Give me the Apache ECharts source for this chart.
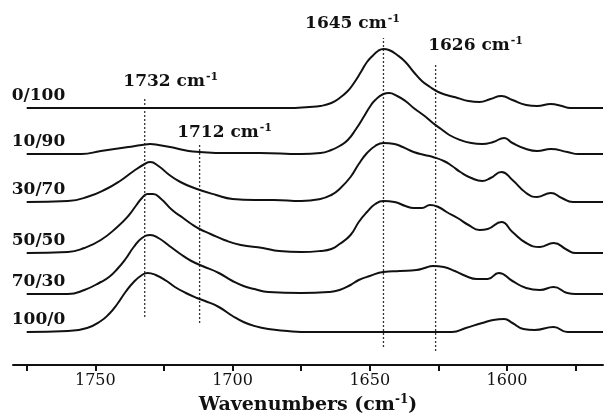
<!DOCTYPE html>
<html>
<head>
<meta charset="utf-8">
<script src="https://cdn.jsdelivr.net/npm/echarts@6/dist/echarts.min.js"></script>
<style>
  html, body { margin: 0; padding: 0; background: #ffffff; }
  #chart { width: 605px; height: 413px; }
</style>
</head>
<body>
<div id="chart"></div>
<script>
// Stacked FTIR spectra of the blends, carbonyl / amide I region.
// Each spectrum is [wavenumber (cm-1), absorbance above its own baseline].
const sampleNames = ['0/100', '10/90', '30/70', '50/50', '70/30', '100/0'];
const sampleOffsets = [257, 211, 163, 112, 71, 33];

const spectrum_0_100 = [
  [1775,0],[1740,0],[1700,0],[1680,0],[1672,1],[1668,2],[1664,5],[1661,10],[1658,17],[1656,24],
  [1653,37],[1651,46],[1649,52],[1647,57],[1645,59],[1643,58],[1640,53],[1637,46],[1634,36],
  [1631,27],[1628,21],[1625,16],[1622,13],[1618,10],[1614,7],[1610,6],[1606,9],[1602,12],
  [1598,8],[1593,3],[1589,2],[1584,4],[1580,2],[1577,0],[1565,0]
];
const spectrum_10_90 = [
  [1775,0],[1755,0],[1748,3],[1743,5],[1738,7],[1733,9],[1730,10],[1727,9],[1721,6],[1716,3],
  [1712,2],[1703,1],[1690,1],[1675,0],[1668,1],[1664,4],[1661,8],[1658,14],[1655,25],[1652,38],
  [1650,47],[1648,54],[1645,60],[1643,61],[1640,58],[1637,53],[1634,46],[1630,38],[1627,31],
  [1624,25],[1621,19],[1617,14],[1613,11],[1609,10],[1605,12],[1601,16],[1598,11],[1593,5],
  [1589,3],[1584,5],[1578,2],[1574,0],[1565,0]
];
const spectrum_30_70 = [
  [1775,0],[1760,1],[1752,6],[1746,13],[1741,21],[1736,31],[1732,38],[1730,40],[1727,36],
  [1723,27],[1719,20],[1714,14],[1706,7],[1700,3],[1692,2],[1685,2],[1675,1],[1668,3],
  [1664,7],[1661,13],[1657,25],[1654,38],[1651,49],[1648,56],[1645,59],[1641,58],[1638,55],
  [1634,50],[1630,47],[1627,45],[1623,41],[1620,36],[1617,30],[1613,24],[1609,21],[1606,24],
  [1602,30],[1598,22],[1593,9],[1589,5],[1584,9],[1580,4],[1576,0],[1565,0]
];
const spectrum_50_50 = [
  [1775,0],[1760,1],[1754,5],[1748,13],[1742,26],[1738,37],[1735,48],[1733,55],[1731,59],
  [1729,59],[1726,54],[1722,43],[1718,35],[1715,29],[1712,24],[1708,19],[1703,13],[1697,8],
  [1689,5],[1683,2],[1675,1],[1668,2],[1664,4],[1661,9],[1657,18],[1654,31],[1651,41],
  [1648,49],[1645,52],[1641,51],[1637,47],[1634,45],[1631,45],[1628,48],[1625,46],[1622,41],
  [1618,35],[1614,28],[1610,23],[1607,24],[1602,31],[1598,21],[1593,10],[1588,6],[1583,10],
  [1578,3],[1575,0],[1565,0]
];
const spectrum_70_30 = [
  [1775,0],[1760,0],[1754,4],[1748,12],[1745,17],[1742,25],[1739,35],[1736,47],[1733,56],
  [1730,59],[1727,56],[1723,48],[1719,40],[1715,33],[1711,28],[1705,21],[1700,13],[1696,8],
  [1692,5],[1687,2],[1675,1],[1665,2],[1661,4],[1657,9],[1654,14],[1650,18],[1645,22],
  [1639,23],[1633,24],[1630,26],[1627,28],[1623,27],[1619,23],[1615,18],[1611,15],[1607,15],
  [1603,21],[1598,13],[1593,6],[1588,4],[1583,7],[1578,1],[1575,0],[1565,0]
];
const spectrum_100_0 = [
  [1775,0],[1760,1],[1753,4],[1748,11],[1745,18],[1742,28],[1739,40],[1736,50],[1733,57],
  [1731,59],[1728,57],[1724,51],[1721,45],[1717,39],[1713,34],[1710,31],[1705,25],[1700,16],
  [1696,10],[1692,6],[1687,3],[1680,1],[1675,0],[1620,0],[1615,4],[1609,9],[1605,12],[1601,13],
  [1598,9],[1594,3],[1590,2],[1583,5],[1578,0],[1565,0]
];
const spectra = [spectrum_0_100, spectrum_10_90, spectrum_30_70, spectrum_50_50, spectrum_70_30, spectrum_100_0];

// Assigned bands and the vertical span of their marker lines (same units as the stack)
const peakPositions = [1732, 1712, 1645, 1626];
const peakLineTop = [268, 222, 327, 302];
const peakLineBottom = [48, 42, 18, 14];

// Axis
const xMin = 1565, xMax = 1780;
const tickValues = [1575, 1600, 1625, 1650, 1675, 1700, 1725, 1750, 1775];
const tickLabelValues = [1600, 1650, 1700, 1750];

// Text placement (pixels) for the band labels, relative to the top of each marker line
const peakLabelShift = [[26, -15], [25, -10], [-31, -14], [40, -17]];

const FONT = 'DejaVu Serif';
const INK = '#111111';

const supRich = {
  m: { fontFamily: FONT, fontWeight: 'bold', fontSize: 17, color: INK, lineHeight: 20 },
  s: { fontFamily: FONT, fontWeight: 'bold', fontSize: 11, color: INK, verticalAlign: 'top', lineHeight: 20, padding: [0, 0, 0, 1] }
};

const series = [];

spectra.forEach(function (spec, i) {
  const off = sampleOffsets[i];
  series.push({
    name: sampleNames[i],
    type: 'line',
    data: spec.map(function (p) { return [p[0], p[1] + off]; }),
    smooth: 0.5,
    symbol: 'none',
    lineStyle: { color: INK, width: 2 },
    z: 3,
    markPoint: {
      symbol: 'circle',
      symbolSize: 0,
      silent: true,
      data: [{ coord: [spec[0][0], off] }],
      label: {
        show: true,
        formatter: sampleNames[i],
        align: 'left',
        offset: [-15, -12],
        fontFamily: FONT,
        fontWeight: 'bold',
        fontSize: 17,
        color: INK
      }
    }
  });
});

peakPositions.forEach(function (wn, k) {
  series.push({
    name: 'band ' + wn,
    type: 'line',
    data: [[wn, peakLineBottom[k]], [wn, peakLineTop[k]]],
    symbol: 'none',
    lineStyle: { color: '#333333', width: 1.3, type: [2, 2] },
    z: 2,
    markPoint: {
      symbol: 'circle',
      symbolSize: 0,
      silent: true,
      data: [{ coord: [wn, peakLineTop[k]] }],
      label: {
        show: true,
        formatter: '{m|' + wn + ' cm}{s|-1}',
        offset: peakLabelShift[k],
        rich: supRich
      }
    }
  });
});

const chart = echarts.init(document.getElementById('chart'), null, { renderer: 'canvas' });
chart.setOption({
  animation: false,
  backgroundColor: '#ffffff',
  grid: { left: 13, right: 2, top: 0, bottom: 48, containLabel: false, outerBoundsMode: 'none' },
  xAxis: {
    type: 'value',
    min: xMin,
    max: xMax,
    inverse: true,
    name: '{m|Wavenumbers (cm}{s|-1}{m|)}',
    nameLocation: 'middle',
    nameGap: 28,
    nameTextStyle: {
      rich: {
        m: { fontFamily: FONT, fontWeight: 'bold', fontSize: 19, color: INK, lineHeight: 22 },
        s: { fontFamily: FONT, fontWeight: 'bold', fontSize: 12, color: INK, verticalAlign: 'top', lineHeight: 22 }
      }
    },
    axisLine: { show: true, onZero: false, lineStyle: { color: INK, width: 2 } },
    axisTick: { show: true, inside: false, length: 6, customValues: tickValues, lineStyle: { color: INK, width: 2 } },
    axisLabel: {
      customValues: tickLabelValues,
      margin: 8,
      fontFamily: FONT,
      fontSize: 16,
      color: INK,
      formatter: function (v) { return String(v); }
    },
    splitLine: { show: false }
  },
  yAxis: {
    type: 'value',
    min: 0,
    max: 365,
    show: false,
    splitLine: { show: false }
  },
  series: series
});
</script>
</body>
</html>
